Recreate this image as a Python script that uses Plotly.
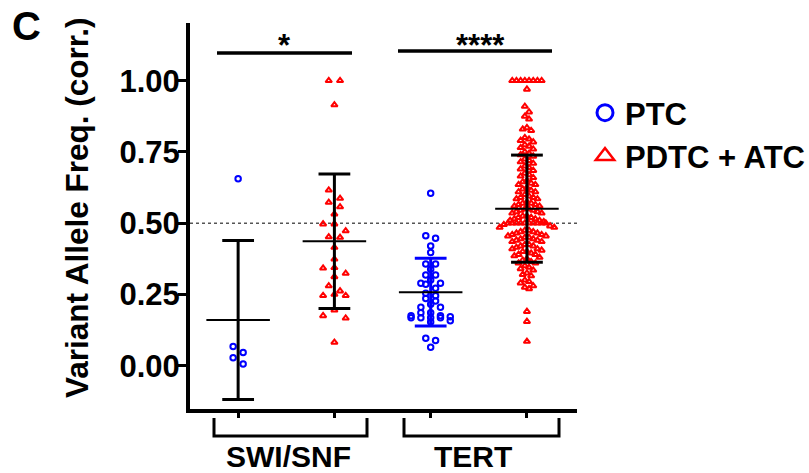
import numpy as np
import plotly.graph_objects as go

# ---------------- data ----------------
categories = ["SWI/SNF PTC", "SWI/SNF PDTC + ATC", "TERT PTC", "TERT PDTC + ATC"]
gene_labels = ["SWI/SNF", "TERT"]
series_names = ["PTC", "PDTC + ATC"]
y_ticks = [0.0, 0.25, 0.50, 0.75, 1.00]
sig_labels = ["*", "****"]

swi_ptc = [0.656, 0.067, 0.046, 0.028, 0.006]
swi_pdtc = [1.00, 1.00, 0.915, 0.616, 0.587, 0.573, 0.557, 0.532, 0.497, 0.497,
            0.473, 0.452, 0.450, 0.415, 0.374, 0.344, 0.342, 0.324, 0.312, 0.280,
            0.262, 0.250, 0.246, 0.246, 0.195, 0.175, 0.167, 0.082]
tert_ptc = [0.605, 0.456, 0.447, 0.420, 0.397, 0.357, 0.357, 0.338, 0.318, 0.318,
            0.301, 0.289, 0.289, 0.286, 0.272, 0.254, 0.245, 0.236, 0.227, 0.216,
            0.205, 0.205, 0.186, 0.186, 0.168, 0.175, 0.168, 0.172, 0.168, 0.168,
            0.175, 0.158, 0.153, 0.096, 0.088, 0.065]
tert_pdtc = [1.00, 1.00, 1.00, 1.00, 1.00, 1.00, 1.00, 1.00,
             0.97, 0.91, 0.89, 0.875, 0.865, 0.835, 0.83, 0.825,
             0.80, 0.795, 0.79, 0.785,
             0.775, 0.77, 0.765, 0.76,
             0.75, 0.745, 0.74, 0.735,
             0.725, 0.72, 0.715, 0.71,
             0.70, 0.695, 0.69, 0.685,
             0.675, 0.67, 0.665, 0.66,
             0.65, 0.645, 0.64, 0.635, 0.635,
             0.625, 0.62, 0.615, 0.61, 0.61,
             0.60, 0.595, 0.59, 0.59, 0.585, 0.585,
             0.575, 0.57, 0.57, 0.565, 0.565, 0.56, 0.56,
             0.55, 0.55, 0.545, 0.545, 0.54, 0.54, 0.535, 0.535,
             0.525, 0.525, 0.52, 0.52, 0.515, 0.515, 0.51, 0.51, 0.505,
             0.50, 0.50, 0.50, 0.50, 0.50, 0.50, 0.50, 0.50, 0.50, 0.50,
             0.495, 0.49, 0.485, 0.485,
             0.475, 0.475, 0.47, 0.47, 0.465, 0.465, 0.46, 0.46, 0.455, 0.455,
             0.45, 0.45, 0.445, 0.445, 0.44, 0.44, 0.435, 0.435,
             0.425, 0.425, 0.42, 0.42, 0.415, 0.41, 0.41, 0.405,
             0.40, 0.40, 0.395, 0.39, 0.39, 0.385, 0.38,
             0.375, 0.37, 0.365, 0.36, 0.36,
             0.35, 0.345, 0.34, 0.335,
             0.325, 0.32, 0.315,
             0.30, 0.295, 0.29,
             0.28, 0.275, 0.27,
             0.19, 0.155, 0.085]
group_values = [swi_ptc, swi_pdtc, tert_ptc, tert_pdtc]
means = [0.160, 0.437, 0.258, 0.551]
sds = [0.279, 0.236, 0.119, 0.188]

# ---------------- layout constants ----------------
W, H = 809, 473
ML, MR, MT, MB = 190, 10, 23, 64
PLOT_W = 387                      # width of the main plot area in px
PLOT_H = H - MT - MB
XR = [-0.5, 3.52]
YR = [-0.152, 1.2025]
ppx = PLOT_W / (XR[1] - XR[0])
ppy = PLOT_H / (YR[1] - YR[0])
PAPER_W = W - ML - MR
xdom = PLOT_W / PAPER_W

BLUE = "#0000ff"
RED = "#ff0000"
FONT = "Arial, Liberation Sans, Helvetica, sans-serif"


def row_swarm(values, row_h_px, sp_px):
    """GraphPad-like scatter: points binned into rows, centred within each row."""
    vals = np.asarray(values, float)
    order = np.argsort(-vals, kind="stable")
    offs = np.zeros(len(vals))
    rows, cur, start = [], [], None
    for i in order:
        if start is None or (start - vals[i]) * ppy >= row_h_px:
            if cur:
                rows.append(cur)
            cur, start = [i], vals[i]
        else:
            cur.append(i)
    if cur:
        rows.append(cur)
    for r in rows:
        n = len(r)
        slots = sorted([k - (n - 1) / 2 for k in range(n)], key=lambda s: (abs(s), s))
        for idx, s in zip(r, slots):
            offs[idx] = s * sp_px
    return offs / ppx


fig = go.Figure()

row_h = [8.0, 8.5, 4.2, 6.0]
spacing = [10.0, 11.3, 9.8, 4.2]
for g, vals in enumerate(group_values):
    ptc = g % 2 == 0
    offs = row_swarm(vals, row_h[g], spacing[g])
    fig.add_trace(go.Scatter(
        x=g + offs, y=vals, mode="markers", showlegend=False, hoverinfo="skip",
        marker=dict(symbol="circle-open" if ptc else "triangle-up-open",
                    size=5.5 if ptc else 5.6,
                    color=BLUE if ptc else RED,
                    line=dict(width=2, color=BLUE if ptc else RED))))

# SD error bars and mean lines
cap_half, mean_half = 0.165, 0.33
for g in range(len(categories)):
    m, s = means[g], sds[g]
    col = BLUE if g == 2 else "black"
    xs = [g, g, None, g - cap_half, g + cap_half, None, g - cap_half, g + cap_half]
    ys = [m - s, m + s, None, m + s, m + s, None, m - s, m - s]
    fig.add_trace(go.Scatter(x=xs, y=ys, mode="lines", showlegend=False, hoverinfo="skip",
                             line=dict(color=col, width=3)))
    fig.add_trace(go.Scatter(x=[g - mean_half, g + mean_half], y=[m, m], mode="lines",
                             showlegend=False, hoverinfo="skip",
                             line=dict(color="black", width=2)))

# legend entries
fig.add_trace(go.Scatter(x=[None], y=[None], mode="markers", name=series_names[0],
                         marker=dict(symbol="circle-open", size=16, color=BLUE,
                                     line=dict(width=3, color=BLUE))))
fig.add_trace(go.Scatter(x=[None], y=[None], mode="markers", name=series_names[1],
                         marker=dict(symbol="triangle-up-open", size=16, color=RED,
                                     line=dict(width=2.5, color=RED))))


def py_paper(p):
    return (H - MB - p) / PLOT_H


def px_paper(p):
    return (p - ML) / PAPER_W


def px_data(p):
    return XR[0] + (p - ML) / ppx


def py_data(p):
    return YR[1] - (p - MT) / ppy


shapes = []
# dotted reference line at 0.5
shapes.append(dict(type="line", xref="x", yref="y", x0=XR[0], x1=XR[1], y0=0.5, y1=0.5,
                   line=dict(color="#555555", width=1.5, dash="dot"), layer="below"))
# significance bars
for (a, b, yy) in [(217, 352, 53), (398, 552, 51)]:
    shapes.append(dict(type="line", xref="x", yref="y", x0=px_data(a), x1=px_data(b),
                       y0=py_data(yy), y1=py_data(yy), line=dict(color="black", width=3.5)))
# gene brackets
for (a, b) in [(214, 367), (404, 559)]:
    x0, x1 = px_data(a), px_data(b)
    yt, yb = py_paper(418), py_paper(436)
    shapes.append(dict(type="path", xref="x", yref="paper",
                       path=f"M {x0},{yt} L {x0},{yb} L {x1},{yb} L {x1},{yt}",
                       line=dict(color="black", width=3)))

annotations = []
for lab, cx in zip(sig_labels, [284, 480]):
    annotations.append(dict(text=lab, x=px_data(cx), y=py_data(51), xref="x", yref="y",
                            showarrow=False, yanchor="bottom", yshift=-14,
                            font=dict(family=FONT, size=31, color="black", weight="bold")))
for lab, cx in zip(gene_labels, [288, 473]):
    annotations.append(dict(text=lab, x=px_data(cx), y=py_paper(456), xref="x", yref="paper",
                            showarrow=False, yanchor="middle",
                            font=dict(family=FONT, size=30, color="black", weight="bold")))
annotations.append(dict(text="Variant Allele Freq. (corr.)", textangle=-90,
                        x=px_paper(77), y=py_paper(208), xref="paper", yref="paper",
                        showarrow=False, xanchor="center", yanchor="middle",
                        font=dict(family=FONT, size=31.5, color="black", weight="bold")))
annotations.append(dict(text="C", x=px_paper(26), y=py_paper(26),
                        xref="paper", yref="paper", showarrow=False,
                        xanchor="center", yanchor="middle",
                        font=dict(family=FONT, size=40, color="black", weight="bold")))

fig.update_layout(
    width=W, height=H, margin=dict(l=ML, r=MR, t=MT, b=MB, autoexpand=False),
    plot_bgcolor="white", paper_bgcolor="white",
    font=dict(family=FONT, color="black"),
    shapes=shapes, annotations=annotations,
    legend=dict(x=px_paper(585), xanchor="left",
                y=py_paper(86), yanchor="top",
                font=dict(family=FONT, size=31, color="black", weight="bold"),
                bgcolor="rgba(0,0,0,0)", itemsizing="trace", tracegroupgap=0),
    xaxis=dict(domain=[0, xdom], range=XR, showgrid=False, zeroline=False,
               tickvals=list(range(len(categories))), showticklabels=False,
               ticks="outside", ticklen=5, tickwidth=3, tickcolor="black",
               showline=True, linewidth=4, linecolor="black"),
    yaxis=dict(range=YR, showgrid=False, zeroline=False,
               tickvals=y_ticks, ticktext=[f"{v:.2f}" for v in y_ticks],
               ticks="outside", ticklen=8, tickwidth=3, tickcolor="black",
               showline=True, linewidth=4, linecolor="black", ticklabelstandoff=-8,
               tickfont=dict(family=FONT, size=31, color="black", weight="bold")),
)

fig.write_html("out.html", config={"displayModeBar": False},
               post_script="document.body.style.margin='0';")
